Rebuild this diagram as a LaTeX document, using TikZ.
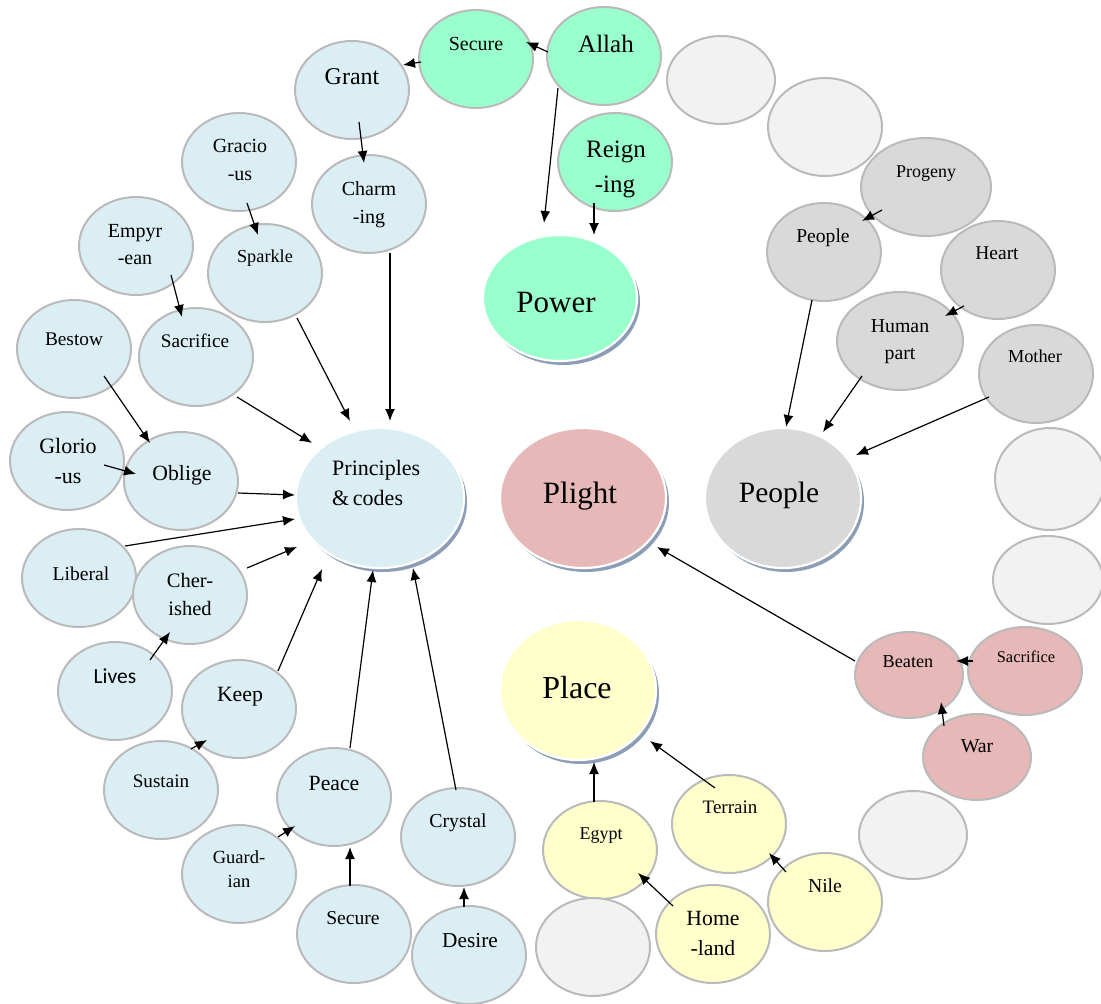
\documentclass[tikz,border=0pt]{standalone}
\usepackage{fontspec}
\setmainfont{Liberation Serif}
\newfontfamily\carl{Carlito}
\usetikzlibrary{shapes.geometric,arrows.meta,shadows,calc}
\definecolor{cBlue}{HTML}{DAEEF3}
\definecolor{cGreen}{HTML}{99FFCC}
\definecolor{cGray}{HTML}{D9D9D9}
\definecolor{cLight}{HTML}{F2F2F2}
\definecolor{cPink}{HTML}{E6B8B7}
\definecolor{cYellow}{HTML}{FFFFCC}
\definecolor{cBorder}{HTML}{BABABA}
\definecolor{cShadow}{HTML}{8C9DB5}
\newcommand\fsz[1]{\fontsize{#1}{#1}\selectfont}
\tikzset{
  bub/.style={ellipse, draw=cBorder, line width=2pt, inner sep=0pt, minimum width=114pt, minimum height=98pt},
  big/.style={ellipse, draw=white, line width=2.2pt, inner sep=0pt,
    drop shadow={shadow xshift=3pt, shadow yshift=-4pt, fill=cShadow, opacity=1}},
  lbl/.style={anchor=base, inner sep=0pt, text=black},
  arr/.style={line width=1.2pt, -{Latex[length=12pt,width=10pt]}},
}
\begin{document}
\begin{tikzpicture}[x=1pt,y=-1pt]
\useasboundingbox (0,0) rectangle (1101,1004);
% ---------- big nodes
\node[big, fill=cGreen, minimum width=154pt, minimum height=126pt] (power) at (560,298) {};
\node[big, fill=cBlue, minimum width=168pt, minimum height=140pt] (pc) at (380,498) {};
\node[big, fill=cPink, minimum width=166pt, minimum height=140pt] (plight) at (583,498) {};
\node[big, fill=cGray, minimum width=156pt, minimum height=140pt] (peopleB) at (783,498) {};
\node[big, fill=cYellow, minimum width=156pt, minimum height=140pt] (place) at (578,690) {};
% ---------- green
\node[bub, fill=cGreen] (secG) at (476,59) {};
\node[bub, fill=cGreen] (allah) at (604,56) {};
\node[bub, fill=cGreen] (reign) at (615,162) {};
% ---------- blue
\node[bub, fill=cBlue] (grant) at (352,90) {};
\node[bub, fill=cBlue] (charm) at (369,204) {};
\node[bub, fill=cBlue] (gracio) at (239,162) {};
\node[bub, fill=cBlue] (empyr) at (136,246) {};
\node[bub, fill=cBlue] (sparkle) at (265,273) {};
\node[bub, fill=cBlue] (sacB) at (196,357) {};
\node[bub, fill=cBlue] (bestow) at (74,349) {};
\node[bub, fill=cBlue] (glorio) at (67,461) {};
\node[bub, fill=cBlue] (oblige) at (181,481) {};
\node[bub, fill=cBlue] (liberal) at (79,578) {};
\node[bub, fill=cBlue] (cher) at (190,595) {};
\node[bub, fill=cBlue] (lives) at (115,691) {};
\node[bub, fill=cBlue] (keep) at (239,709) {};
\node[bub, fill=cBlue] (sustain) at (161,790) {};
\node[bub, fill=cBlue] (guard) at (239,874) {};
\node[bub, fill=cBlue] (peace) at (334,797) {};
\node[bub, fill=cBlue] (secB) at (354,934) {};
\node[bub, fill=cBlue] (crystal) at (458,837) {};
\node[bub, fill=cBlue] (desire) at (469,955) {};
% ---------- gray
\node[bub, fill=cLight, minimum width=108pt, minimum height=88pt] (e1) at (721,80) {};
\node[bub, fill=cLight] (e2) at (825,127) {};
\node[bub, fill=cGray, minimum width=130pt] (progeny) at (926,187) {};
\node[bub, fill=cGray] (peopleS) at (824,252) {};
\node[bub, fill=cGray] (heart) at (998,270) {};
\node[bub, fill=cGray, minimum width=126pt] (human) at (900,341) {};
\node[bub, fill=cGray] (mother) at (1036,374) {};
\node[bub, fill=cLight, minimum width=110pt, minimum height=102pt] (e3) at (1050,479) {};
\node[bub, fill=cLight, minimum width=110pt, minimum height=88pt] (e4) at (1048,580) {};
% ---------- pink
\node[bub, fill=cPink, minimum height=88pt] (sacP) at (1025,671) {};
\node[bub, fill=cPink, minimum width=108pt, minimum height=86pt] (beaten) at (909,675) {};
\node[bub, fill=cPink, minimum width=108pt, minimum height=86pt] (war) at (977,757) {};
\node[bub, fill=cLight, minimum width=108pt, minimum height=88pt] (e5) at (913,835) {};
% ---------- yellow
\node[bub, fill=cYellow] (nile) at (825,902) {};
\node[bub, fill=cYellow] (terrain) at (729,824) {};
\node[bub, fill=cYellow] (egypt) at (600,850) {};
\node[bub, fill=cYellow] (home) at (713,934) {};
\node[bub, fill=cLight] (e6) at (593,947) {};
% ---------- labels
\node[lbl, font=\fsz{31}] (power-t) at (556,312) {Power};
\node[lbl, font=\fsz{22}, anchor=base west] (pc-t1) at (332,475) {Principles};
\node[lbl, font=\fsz{22}, anchor=base west] (pc-t2) at (332,505) {\&\,codes};
\node[lbl, font=\fsz{31}] (plight-t) at (580,503) {Plight};
\node[lbl, font=\fsz{29.5}] (peopleB-t) at (779,502) {People};
\node[lbl, font=\fsz{32}] (place-t) at (577,698) {Place};
\node[lbl, font=\fsz{20}] (secG-t) at (476,50) {Secure};
\node[lbl, font=\fsz{25}] (allah-t) at (606,52) {Allah};
\node[lbl, font=\fsz{25}] (reign-t1) at (616,157) {Reign};
\node[lbl, font=\fsz{25}] (reign-t2) at (615,192) {-ing};
\node[lbl, font=\fsz{24}] (grant-t) at (352,84) {Grant};
\node[lbl, font=\fsz{20}] (charm-t1) at (369,195) {Charm};
\node[lbl, font=\fsz{20}] (charm-t2) at (369,223) {-ing};
\node[lbl, font=\fsz{20}] (gracio-t1) at (240,152) {Gracio};
\node[lbl, font=\fsz{20}] (gracio-t2) at (240,180) {-us};
\node[lbl, font=\fsz{20}] (empyr-t1) at (135,237) {Empyr};
\node[lbl, font=\fsz{20}] (empyr-t2) at (135,264) {-ean};
\node[lbl, font=\fsz{18.3}] (sparkle-t) at (265,262) {Sparkle};
\node[lbl, font=\fsz{19.2}] (sacB-t) at (195,347) {Sacrifice};
\node[lbl, font=\fsz{19.3}] (bestow-t) at (74,345) {Bestow};
\node[lbl, font=\fsz{22}] (glorio-t1) at (68,453) {Glorio};
\node[lbl, font=\fsz{22}] (glorio-t2) at (68,483) {-us};
\node[lbl, font=\fsz{21.7}] (oblige-t) at (182,480) {Oblige};
\node[lbl, font=\fsz{19.6}] (liberal-t) at (81,580) {Liberal};
\node[lbl, font=\fsz{20.5}] (cher-t1) at (190,587) {Cher-};
\node[lbl, font=\fsz{20.5}] (cher-t2) at (190,615) {ished};
\node[lbl, font=\carl\fsz{21.5}] (lives-t) at (115,683) {Lives};
\node[lbl, font=\fsz{21.8}] (keep-t) at (240,701) {Keep};
\node[lbl, font=\fsz{19.1}] (sustain-t) at (161,787) {Sustain};
\node[lbl, font=\fsz{18.5}] (guard-t1) at (239,863) {Guard-};
\node[lbl, font=\fsz{18.5}] (guard-t2) at (239,887) {ian};
\node[lbl, font=\fsz{21.7}] (peace-t) at (334,790) {Peace};
\node[lbl, font=\fsz{19.6}] (secB-t) at (353,924) {Secure};
\node[lbl, font=\fsz{19.8}] (crystal-t) at (458,827) {Crystal};
\node[lbl, font=\fsz{21.3}] (desire-t) at (470,947) {Desire};
\node[lbl, font=\fsz{18}] (progeny-t) at (926,177) {Progeny};
\node[lbl, font=\fsz{19.6}] (peopleS-t) at (823,242) {People};
\node[lbl, font=\fsz{19.5}] (heart-t) at (997,259) {Heart};
\node[lbl, font=\fsz{19.8}] (human-t1) at (900,332) {Human};
\node[lbl, font=\fsz{19.8}] (human-t2) at (900,359) {part};
\node[lbl, font=\fsz{18.3}] (mother-t) at (1035,362) {Mother};
\node[lbl, font=\fsz{18.2}] (beaten-t) at (908,667) {Beaten};
\node[lbl, font=\fsz{16.4}] (sacP-t) at (1026,662) {Sacrifice};
\node[lbl, font=\fsz{19.8}] (war-t) at (977,752) {War};
\node[lbl, font=\fsz{18}] (egypt-t) at (601,839) {Egypt};
\node[lbl, font=\fsz{19}] (terrain-t) at (730,813) {Terrain};
\node[lbl, font=\fsz{21.7}] (home-t1) at (713,925) {Home};
\node[lbl, font=\fsz{21.7}] (home-t2) at (713,955) {-land};
\node[lbl, font=\fsz{19.7}] (nile-t) at (825,892) {Nile};
% ---------- connectors
\draw[arr] ($(allah)+(-56,-4)$) -- ($(secG)+(50,-17)$);
\draw[arr] ($(secG)+(-55,3)$) -- ($(grant)+(51,-25)$);
\draw[arr] ($(allah)+(-46,32)$) -- ($(power)+(-16,-75)$);
\draw[arr] ($(reign)+(-21,41)$) -- ($(power)+(34,-63)$);
\draw[arr] ($(grant)+(7,32)$) -- ($(charm)+(-5,-41)$);
\draw[arr] ($(charm)+(21,49)$) -- ($(pc)+(10,-77)$);
\draw[arr] ($(sparkle)+(32,45)$) -- ($(pc)+(-30,-77)$);
\draw[arr] ($(sacB)+(41,40)$) -- ($(pc)+(-68,-55)$);
\draw[arr] ($(gracio)+(8,41)$) -- ($(sparkle)+(-7,-38)$);
\draw[arr] ($(empyr)+(35,29)$) -- ($(sacB)+(-14,-40)$);
\draw[arr] ($(bestow)+(30,27)$) -- ($(oblige)+(-31,-38)$);
\draw[arr] ($(glorio)+(37,4)$) -- ($(oblige)+(-45,-7)$);
\draw[arr] ($(oblige)+(57,12)$) -- ($(pc)+(-85,-3)$);
\draw[arr] ($(liberal)+(46,-32)$) -- ($(pc)+(-85,21)$);
\draw[arr] ($(cher)+(57,-27)$) -- ($(pc)+(-83,49)$);
\draw[arr] ($(lives)+(35,-31)$) -- ($(cher)+(-20,37)$);
\draw[arr] ($(keep)+(39,-38)$) -- ($(pc)+(-58,71)$);
\draw[arr] ($(peace)+(16,-49)$) -- ($(pc)+(-7,72)$);
\draw[arr] ($(crystal)+(-2,-47)$) -- ($(pc)+(33,70)$);
\draw[arr] ($(sustain)+(30,-41)$) -- ($(keep)+(-32,31)$);
\draw[arr] ($(guard)+(39,-37)$) -- ($(peace)+(-39,29)$);
\draw[arr] ($(secB)+(-4,-48)$) -- ($(peace)+(16,50)$);
\draw[arr] ($(desire)+(-5,-48)$) -- ($(crystal)+(6,50)$);
\draw[arr] ($(progeny)+(-44,23)$) -- ($(peopleS)+(38,-31)$);
\draw[arr] ($(peopleS)+(-12,48)$) -- ($(peopleB)+(3,-71)$);
\draw[arr] ($(heart)+(-34,36)$) -- ($(human)+(45,-25)$);
\draw[arr] ($(human)+(-38,35)$) -- ($(peopleB)+(40,-66)$);
\draw[arr] ($(mother)+(-47,23)$) -- ($(peopleB)+(73,-43)$);
\draw[arr] ($(beaten)+(-54,-14)$) -- ($(plight)+(74,49)$);
\draw[arr] ($(sacP)+(-52,-10)$) -- ($(beaten)+(47,-14)$);
\draw[arr] ($(war)+(-33,-31)$) -- ($(beaten)+(32,27)$);
\draw[arr] ($(egypt)+(-6,-48)$) -- ($(place)+(16,72)$);
\draw[arr] ($(terrain)+(-14,-36)$) -- ($(place)+(72,51)$);
\draw[arr] ($(home)+(-40,-28)$) -- ($(egypt)+(38,23)$);
\draw[arr] ($(nile)+(-39,-30)$) -- ($(terrain)+(40,29)$);
\end{tikzpicture}
\end{document}
